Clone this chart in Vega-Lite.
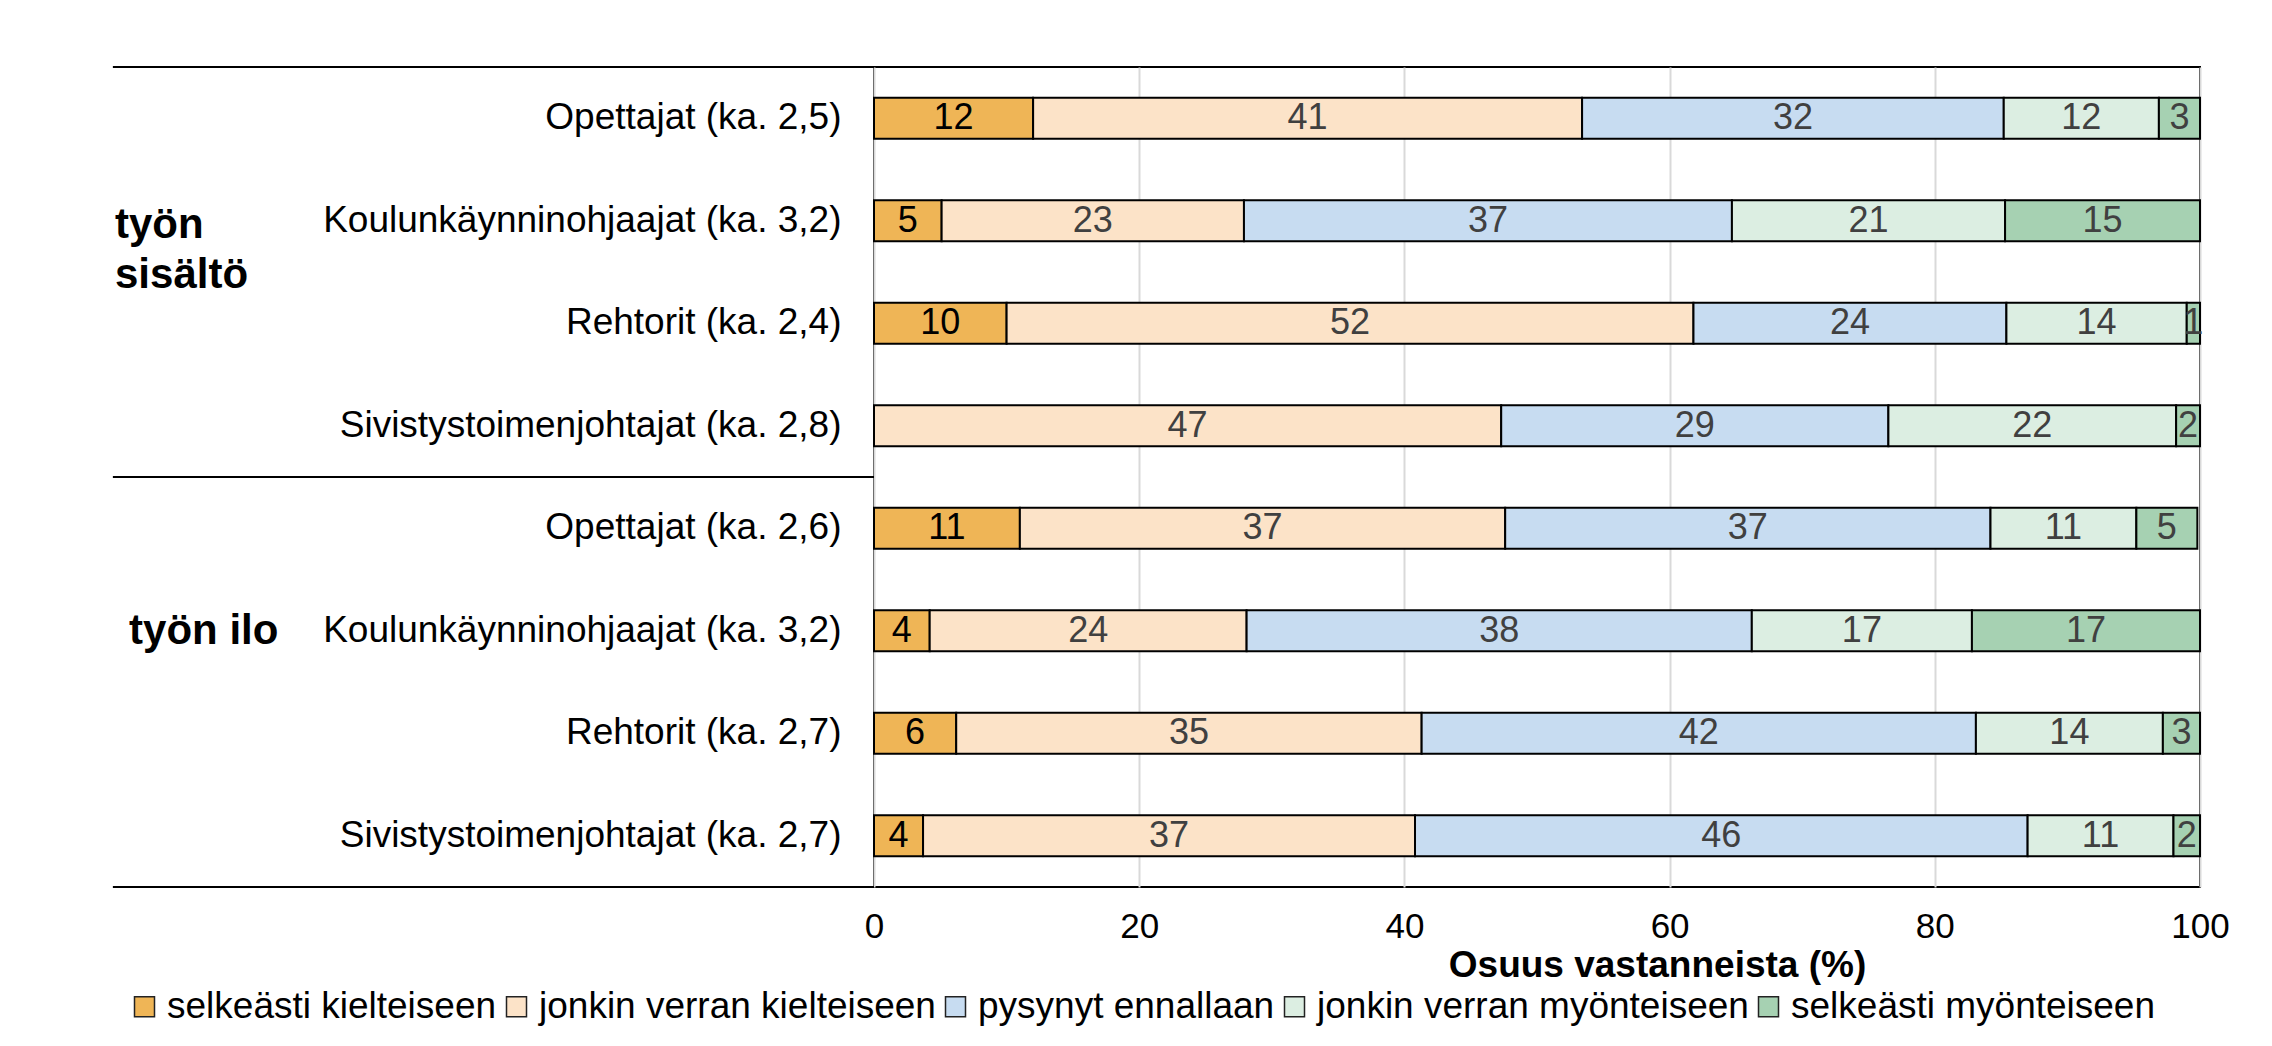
{
  "$schema": "https://vega.github.io/schema/vega-lite/v6.json",
  "autosize": "none",
  "padding": {"left": 874, "top": 67, "right": 72, "bottom": 159},
  "width": 1326,
  "height": 820,
  "background": "white",
  "config": {
    "font": "Liberation Sans",
    "view": {"stroke": "#000", "strokeWidth": 2}
  },
  "datasets": {
    "d": [
      {"key": "1|Opettajat (ka. 2,5)", "cat": "selkeästi kielteiseen", "o": 1, "value": 12.0},
      {"key": "1|Opettajat (ka. 2,5)", "cat": "jonkin verran kielteiseen", "o": 2, "value": 41.4},
      {"key": "1|Opettajat (ka. 2,5)", "cat": "pysynyt ennallaan", "o": 3, "value": 31.8},
      {"key": "1|Opettajat (ka. 2,5)", "cat": "jonkin verran myönteiseen", "o": 4, "value": 11.7},
      {"key": "1|Opettajat (ka. 2,5)", "cat": "selkeästi myönteiseen", "o": 5, "value": 3.1},
      {"key": "2|Koulunkäynninohjaajat (ka. 3,2)", "cat": "selkeästi kielteiseen", "o": 1, "value": 5.1},
      {"key": "2|Koulunkäynninohjaajat (ka. 3,2)", "cat": "jonkin verran kielteiseen", "o": 2, "value": 22.8},
      {"key": "2|Koulunkäynninohjaajat (ka. 3,2)", "cat": "pysynyt ennallaan", "o": 3, "value": 36.8},
      {"key": "2|Koulunkäynninohjaajat (ka. 3,2)", "cat": "jonkin verran myönteiseen", "o": 4, "value": 20.6},
      {"key": "2|Koulunkäynninohjaajat (ka. 3,2)", "cat": "selkeästi myönteiseen", "o": 5, "value": 14.7},
      {"key": "3|Rehtorit (ka. 2,4)", "cat": "selkeästi kielteiseen", "o": 1, "value": 10.0},
      {"key": "3|Rehtorit (ka. 2,4)", "cat": "jonkin verran kielteiseen", "o": 2, "value": 51.8},
      {"key": "3|Rehtorit (ka. 2,4)", "cat": "pysynyt ennallaan", "o": 3, "value": 23.6},
      {"key": "3|Rehtorit (ka. 2,4)", "cat": "jonkin verran myönteiseen", "o": 4, "value": 13.6},
      {"key": "3|Rehtorit (ka. 2,4)", "cat": "selkeästi myönteiseen", "o": 5, "value": 1.0},
      {"key": "4|Sivistystoimenjohtajat (ka. 2,8)", "cat": "jonkin verran kielteiseen", "o": 2, "value": 47.3},
      {"key": "4|Sivistystoimenjohtajat (ka. 2,8)", "cat": "pysynyt ennallaan", "o": 3, "value": 29.2},
      {"key": "4|Sivistystoimenjohtajat (ka. 2,8)", "cat": "jonkin verran myönteiseen", "o": 4, "value": 21.7},
      {"key": "4|Sivistystoimenjohtajat (ka. 2,8)", "cat": "selkeästi myönteiseen", "o": 5, "value": 1.8},
      {"key": "5|Opettajat (ka. 2,6)", "cat": "selkeästi kielteiseen", "o": 1, "value": 11.0},
      {"key": "5|Opettajat (ka. 2,6)", "cat": "jonkin verran kielteiseen", "o": 2, "value": 36.6},
      {"key": "5|Opettajat (ka. 2,6)", "cat": "pysynyt ennallaan", "o": 3, "value": 36.6},
      {"key": "5|Opettajat (ka. 2,6)", "cat": "jonkin verran myönteiseen", "o": 4, "value": 11.0},
      {"key": "5|Opettajat (ka. 2,6)", "cat": "selkeästi myönteiseen", "o": 5, "value": 4.6},
      {"key": "6|Koulunkäynninohjaajat (ka. 3,2)", "cat": "selkeästi kielteiseen", "o": 1, "value": 4.2},
      {"key": "6|Koulunkäynninohjaajat (ka. 3,2)", "cat": "jonkin verran kielteiseen", "o": 2, "value": 23.9},
      {"key": "6|Koulunkäynninohjaajat (ka. 3,2)", "cat": "pysynyt ennallaan", "o": 3, "value": 38.1},
      {"key": "6|Koulunkäynninohjaajat (ka. 3,2)", "cat": "jonkin verran myönteiseen", "o": 4, "value": 16.6},
      {"key": "6|Koulunkäynninohjaajat (ka. 3,2)", "cat": "selkeästi myönteiseen", "o": 5, "value": 17.2},
      {"key": "7|Rehtorit (ka. 2,7)", "cat": "selkeästi kielteiseen", "o": 1, "value": 6.2},
      {"key": "7|Rehtorit (ka. 2,7)", "cat": "jonkin verran kielteiseen", "o": 2, "value": 35.1},
      {"key": "7|Rehtorit (ka. 2,7)", "cat": "pysynyt ennallaan", "o": 3, "value": 41.8},
      {"key": "7|Rehtorit (ka. 2,7)", "cat": "jonkin verran myönteiseen", "o": 4, "value": 14.1},
      {"key": "7|Rehtorit (ka. 2,7)", "cat": "selkeästi myönteiseen", "o": 5, "value": 2.8},
      {"key": "8|Sivistystoimenjohtajat (ka. 2,7)", "cat": "selkeästi kielteiseen", "o": 1, "value": 3.7},
      {"key": "8|Sivistystoimenjohtajat (ka. 2,7)", "cat": "jonkin verran kielteiseen", "o": 2, "value": 37.1},
      {"key": "8|Sivistystoimenjohtajat (ka. 2,7)", "cat": "pysynyt ennallaan", "o": 3, "value": 46.2},
      {"key": "8|Sivistystoimenjohtajat (ka. 2,7)", "cat": "jonkin verran myönteiseen", "o": 4, "value": 11.0},
      {"key": "8|Sivistystoimenjohtajat (ka. 2,7)", "cat": "selkeästi myönteiseen", "o": 5, "value": 2.0}
    ],
    "groups": [
      {"label": "työn\nsisältö"},
      {"label": "työn ilo"}
    ]
  },
  "data": {"name": "d"},
  "layer": [
    {
      "mark": {"type": "bar", "stroke": "#000", "strokeWidth": 2},
      "encoding": {
        "x": {
          "field": "value", "type": "quantitative", "stack": "zero",
          "title": "Osuus vastanneista (%)",
          "scale": {"domain": [0, 100], "nice": false},
          "axis": {
            "values": [0, 20, 40, 60, 80, 100],
            "grid": true, "gridColor": "#D9D9D9", "gridWidth": 2,
            "domain": false, "ticks": false, "labelFlush": false,
            "labelFontSize": 35, "labelColor": "#000", "labelPadding": 22,
            "titleFontSize": 37, "titleFontWeight": "bold", "titleColor": "#000",
            "titleX": 783, "titleY": 89, "titleAlign": "center", "titleBaseline": "alphabetic"
          }
        },
        "y": {
          "field": "key", "type": "nominal", "title": null,
          "scale": {"paddingInner": 0.6, "paddingOuter": 0.3},
          "axis": {
            "labelExpr": "split(datum.value, '|')[1]",
            "labelFontSize": 37, "labelColor": "#000", "labelPadding": 33,
            "labelLimit": 1000, "ticks": false, "domain": false, "grid": false
          }
        },
        "color": {
          "field": "cat", "type": "nominal",
          "scale": {
            "domain": ["selkeästi kielteiseen", "jonkin verran kielteiseen", "pysynyt ennallaan", "jonkin verran myönteiseen", "selkeästi myönteiseen"],
            "range": ["#EFB556", "#FCE3C8", "#C7DCF1", "#DCEEE2", "#A6D1B2"]
          },
          "legend": {
            "orient": "none", "legendX": -748, "legendY": 921,
            "direction": "horizontal", "title": null,
            "symbolType": "square", "symbolSize": 400,
            "symbolStrokeColor": "#222", "symbolStrokeWidth": 1.5,
            "labelFontSize": 37, "labelColor": "#000", "labelOffset": 4,
            "columnPadding": 1, "padding": 0, "labelLimit": 1000
          }
        },
        "order": {"field": "o", "type": "quantitative"}
      }
    },
    {
      "transform": [
        {"stack": "value", "groupby": ["key"], "sort": [{"field": "o"}], "as": ["s0", "s1"]},
        {"fold": ["s0", "s1"], "as": ["end", "pos"]}
      ],
      "mark": {"type": "text", "fontSize": 36, "align": "center", "baseline": "middle"},
      "encoding": {
        "x": {"aggregate": "mean", "field": "pos", "type": "quantitative", "title": "Osuus vastanneista (%)"},
        "y": {"field": "key", "type": "nominal", "title": null},
        "detail": {"field": "cat", "type": "nominal"},
        "text": {"aggregate": "max", "field": "value", "type": "quantitative", "format": ".0f"},
        "color": {
          "condition": {"test": "datum.cat === 'selkeästi kielteiseen'", "value": "#000"},
          "value": "#404040"
        }
      }
    },
    {
      "data": {"values": [{}]},
      "mark": {"type": "rule", "stroke": "#000", "strokeWidth": 2},
      "encoding": {
        "x": {"datum": -57.4, "type": "quantitative"},
        "x2": {"datum": 0},
        "y": {"datum": "1|Opettajat (ka. 2,5)", "type": "nominal", "bandPosition": -0.75}
      }
    },
    {
      "data": {"values": [{}]},
      "mark": {"type": "rule", "stroke": "#000", "strokeWidth": 2},
      "encoding": {
        "x": {"datum": -57.4, "type": "quantitative"},
        "x2": {"datum": 0},
        "y": {"datum": "4|Sivistystoimenjohtajat (ka. 2,8)", "type": "nominal", "bandPosition": 1.75}
      }
    },
    {
      "data": {"values": [{}]},
      "mark": {"type": "rule", "stroke": "#000", "strokeWidth": 2},
      "encoding": {
        "x": {"datum": -57.4, "type": "quantitative"},
        "x2": {"datum": 0},
        "y": {"datum": "8|Sivistystoimenjohtajat (ka. 2,7)", "type": "nominal", "bandPosition": 1.75}
      }
    },
    {
      "data": {"name": "groups"},
      "transform": [{"filter": "datum.label === 'työn\\nsisältö'"}],
      "mark": {"type": "text", "align": "left", "baseline": "middle", "fontSize": 42, "fontWeight": "bold", "lineHeight": 50, "lineBreak": "\n", "color": "#000"},
      "encoding": {
        "x": {"datum": -57.24, "type": "quantitative"},
        "y": {"datum": "2|Koulunkäynninohjaajat (ka. 3,2)", "type": "nominal", "bandPosition": 0.61},
        "text": {"field": "label", "type": "nominal"}
      }
    },
    {
      "data": {"name": "groups"},
      "transform": [{"filter": "datum.label === 'työn ilo'"}],
      "mark": {"type": "text", "align": "left", "baseline": "middle", "fontSize": 42, "fontWeight": "bold", "color": "#000"},
      "encoding": {
        "x": {"datum": -56.18, "type": "quantitative"},
        "y": {"datum": "6|Koulunkäynninohjaajat (ka. 3,2)", "type": "nominal", "bandPosition": 0.5},
        "text": {"field": "label", "type": "nominal"}
      }
    }
  ]
}
